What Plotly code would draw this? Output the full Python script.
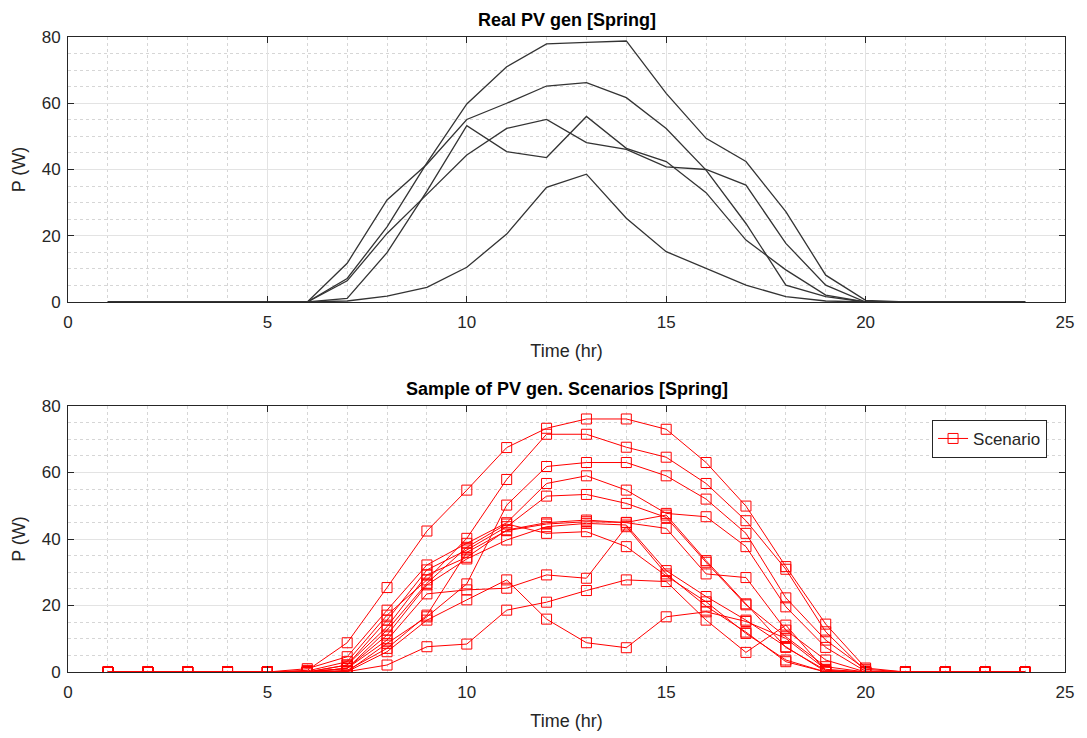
import plotly.graph_objects as go

# ---------------- data ----------------
hours = list(range(1, 25))

# Real PV generation (top panel), W
real_a = [0, 0, 0, 0, 0, 0, 7.1, 22.7, 42.0, 59.8, 71.0, 77.9, 78.4, 78.8, 63.0, 49.4, 42.4, 27.3, 8.1, 0.5, 0, 0, 0, 0]
real_b = [0, 0, 0, 0, 0, 0, 11.7, 30.8, 41.6, 55.1, 60.0, 65.2, 66.2, 61.7, 52.4, 39.8, 23.7, 5.1, 1.6, 0, 0, 0, 0, 0]
real_c = [0, 0, 0, 0, 0, 0, 1.1, 14.9, 33.5, 53.2, 45.4, 43.6, 56.0, 46.4, 42.4, 33.0, 18.7, 9.7, 2.1, 0, 0, 0, 0, 0]
real_d = [0, 0, 0, 0, 0, 0, 6.4, 20.7, 32.5, 44.4, 52.4, 55.1, 48.1, 46.1, 40.8, 40.0, 35.3, 17.7, 5.1, 0, 0, 0, 0, 0]
real_e = [0, 0, 0, 0, 0, 0, 0.3, 1.8, 4.4, 10.5, 20.5, 34.6, 38.6, 25.3, 15.2, 10.2, 5.1, 1.6, 0.3, 0, 0, 0, 0, 0]

# Sample of PV generation scenarios (bottom panel), W
scen_01 = [0, 0, 0, 0, 0, 0.5, 8.8, 25.4, 42.4, 54.7, 67.5, 73.3, 76.1, 76.1, 73.0, 63.0, 49.9, 31.7, 14.4, 1.2, 0, 0, 0, 0]
scen_02 = [0, 0, 0, 0, 0, 0.3, 3.1, 17.1, 27.7, 40.2, 57.9, 71.5, 71.5, 67.6, 64.6, 56.7, 45.5, 30.9, 12.1, 0.3, 0, 0, 0, 0]
scen_03 = [0, 0, 0, 0, 0, 0, 0.1, 8.6, 16.6, 26.5, 50.2, 61.8, 63.0, 63.0, 59.0, 52.0, 41.7, 22.3, 9.6, 0.8, 0, 0, 0, 0]
scen_04 = [0, 0, 0, 0, 0, 1.0, 4.6, 18.6, 32.2, 38.7, 44.9, 56.7, 59.0, 54.7, 47.7, 46.7, 37.7, 19.6, 7.4, 0.2, 0, 0, 0, 0]
scen_05 = [0, 0, 0, 0, 0, 0, 2.1, 15.6, 30.7, 36.7, 43.7, 52.9, 53.4, 50.7, 46.5, 33.0, 20.2, 10.6, 1.6, 0, 0, 0, 0, 0]
scen_06 = [0, 0, 0, 0, 0, 0, 2.1, 13.6, 29.2, 34.5, 42.7, 44.9, 45.7, 44.9, 43.2, 29.5, 28.4, 12.6, 3.6, 0, 0, 0, 0, 0]
scen_07 = [0, 0, 0, 0, 0, 0, 1.1, 11.1, 26.2, 34.0, 39.7, 43.7, 44.7, 44.2, 30.5, 22.7, 15.6, 7.6, 0.1, 0, 0, 0, 0, 0]
scen_08 = [0, 0, 0, 0, 0, 0, 1.1, 12.6, 26.7, 37.5, 44.5, 41.7, 42.2, 37.7, 28.9, 21.1, 11.6, 3.6, 0, 0, 0, 0, 0, 0]
scen_09 = [0, 0, 0, 0, 0, 0, 1.1, 9.6, 23.5, 24.7, 25.2, 29.2, 28.2, 43.7, 29.5, 19.8, 12.0, 3.1, 0, 0, 0, 0, 0, 0]
scen_10 = [0, 0, 0, 0, 0, 0, 0.1, 2.1, 7.6, 8.4, 18.6, 21.0, 24.5, 27.7, 27.2, 15.6, 5.9, 14.1, 0.3, 0, 0, 0, 0, 0]
scen_11 = [0, 0, 0, 0, 0, 0, 0.1, 6.1, 15.6, 21.7, 27.7, 15.9, 8.8, 7.3, 16.6, 18.1, 15.2, 10.1, 0.8, 0, 0, 0, 0, 0]
scen_12 = [0, 0, 0, 0, 0, 0, 0.5, 7.1, 17.1, 36.0, 42.5, 44.5, 45.2, 45.0, 47.2, 33.5, 20.5, 7.4, 0.5, 0, 0, 0, 0, 0]

real_series = [real_a, real_b, real_c, real_d, real_e]
scenario_series = [scen_01, scen_02, scen_03, scen_04, scen_05, scen_06,
                   scen_07, scen_08, scen_09, scen_10, scen_11, scen_12]

x_ticks = [0, 5, 10, 15, 20, 25]
y_ticks = [0, 20, 40, 60, 80]

# ---------------- figure ----------------
FONT = "Liberation Sans, Arial, Helvetica, sans-serif"
TXT = "#262626"

fig = go.Figure()

for s in real_series:
    fig.add_trace(go.Scatter(
        x=hours, y=s, mode="lines",
        line=dict(color="#333333", width=1.3),
        showlegend=False, hoverinfo="skip",
        xaxis="x", yaxis="y"))

for i, s in enumerate(scenario_series):
    fig.add_trace(go.Scatter(
        x=hours, y=s, mode="lines+markers", name="Scenario",
        line=dict(color="#ff0000", width=1),
        marker=dict(symbol="square-open", size=10, color="#ff0000",
                    line=dict(width=1, color="#ff0000")),
        showlegend=(i == 0), legendgroup="sc",
        xaxis="x2", yaxis="y2"))


def axis_style(rng, ticks, minor_dtick, standoff):
    return dict(
        range=rng, tickvals=ticks, showline=True, linecolor=TXT, linewidth=1,
        mirror="ticks", ticks="inside", ticklen=6, tickcolor=TXT, tickwidth=1,
        showgrid=True, gridcolor="#e3e3e3", gridwidth=1, zeroline=False,
        tickfont=dict(family=FONT, size=17, color=TXT),
        ticklabelstandoff=standoff,
        minor=dict(dtick=minor_dtick, showgrid=True, gridcolor="#d6d6d6",
                   griddash="dot", gridwidth=1),
        fixedrange=True,
    )


TOP_LO = 370 / 635
BOT_HI = 266 / 635

xa = axis_style([0, 25], x_ticks, 1, 5)
ya = axis_style([0, 80], y_ticks, 5, 3)

fig.update_layout(
    width=1087, height=738,
    margin=dict(l=68, r=22, t=37, b=66),
    paper_bgcolor="white", plot_bgcolor="white",
    font=dict(family=FONT, color=TXT),
    xaxis=dict(**xa, domain=[0, 1], anchor="y",
               title=dict(text="Time (hr)", font=dict(size=18, color=TXT), standoff=12)),
    yaxis=dict(**ya, domain=[TOP_LO, 1], anchor="x",
               title=dict(text="P (W)", font=dict(size=18, color=TXT), standoff=11)),
    xaxis2=dict(**xa, domain=[0, 1], anchor="y2",
                title=dict(text="Time (hr)", font=dict(size=18, color=TXT), standoff=12)),
    yaxis2=dict(**ya, domain=[0, BOT_HI], anchor="x2",
                title=dict(text="P (W)", font=dict(size=18, color=TXT), standoff=11)),
    legend=dict(x=0.982, y=0.397, xanchor="right", yanchor="top",
                bordercolor=TXT, borderwidth=1, bgcolor="white",
                font=dict(family=FONT, size=17, color=TXT)),
    showlegend=True,
    annotations=[
        dict(text="<b>Real PV gen [Spring]</b>", x=0.5, y=1, xref="paper", yref="paper",
             xanchor="center", yanchor="bottom", yshift=5, showarrow=False,
             font=dict(family=FONT, size=18, color="black")),
        dict(text="<b>Sample of PV gen. Scenarios [Spring]</b>", x=0.5, y=BOT_HI,
             xref="paper", yref="paper", xanchor="center", yanchor="bottom", yshift=5,
             showarrow=False, font=dict(family=FONT, size=18, color="black")),
    ],
)

fig.write_html("out.html")
